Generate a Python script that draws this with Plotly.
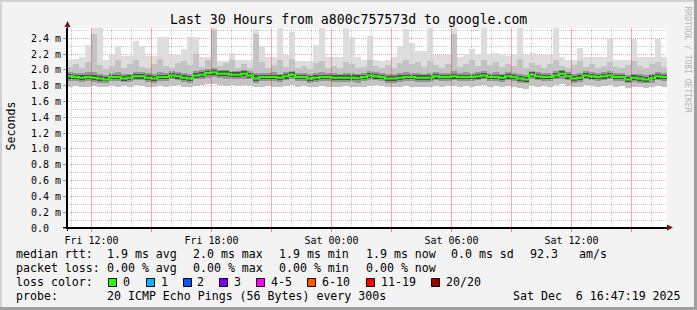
import plotly.graph_objects as go
import pandas as pd
import numpy as np

# ---------------- data (milliseconds) ----------------
med = [1.92,1.91,1.90,1.91,1.90,1.89,1.88,1.91,1.91,1.89,
       1.90,1.92,1.92,1.90,1.89,1.91,1.91,1.93,1.92,1.90,
       1.89,1.93,1.94,1.96,1.97,1.95,1.95,1.94,1.94,1.95,
       1.93,1.89,1.91,1.91,1.91,1.90,1.92,1.94,1.91,1.91,
       1.89,1.90,1.91,1.91,1.90,1.90,1.90,1.90,1.895,1.91,
       1.93,1.92,1.91,1.89,1.89,1.90,1.91,1.91,1.90,1.90,
       1.90,1.92,1.91,1.91,1.92,1.91,1.91,1.91,1.92,1.93,
       1.91,1.91,1.90,1.92,1.91,1.89,1.88,1.94,1.92,1.91,
       1.91,1.93,1.95,1.92,1.89,1.90,1.93,1.92,1.91,1.92,
       1.93,1.91,1.91,1.88,1.90,1.89,1.88,1.895,1.92,1.91]

lo = [1.79,1.80,1.79,1.78,1.80,1.79,1.78,1.80,1.79,1.80,
      1.79,1.81,1.80,1.79,1.78,1.80,1.79,1.80,1.81,1.79,
      1.78,1.80,1.81,1.82,1.82,1.81,1.80,1.81,1.80,1.81,
      1.80,1.78,1.79,1.80,1.79,1.78,1.80,1.81,1.79,1.80,
      1.78,1.79,1.80,1.79,1.78,1.79,1.80,1.79,1.78,1.79,
      1.80,1.81,1.80,1.78,1.79,1.78,1.80,1.79,1.78,1.79,
      1.78,1.80,1.79,1.80,1.80,1.79,1.80,1.79,1.80,1.81,
      1.79,1.80,1.78,1.80,1.79,1.77,1.76,1.80,1.79,1.80,
      1.79,1.81,1.82,1.80,1.78,1.79,1.81,1.80,1.79,1.80,
      1.81,1.79,1.80,1.77,1.79,1.78,1.77,1.78,1.80,1.79]

q1 = [1.86,1.86,1.85,1.86,1.85,1.84,1.84,1.86,1.86,1.85,
      1.85,1.87,1.87,1.85,1.84,1.86,1.86,1.88,1.87,1.85,
      1.84,1.88,1.89,1.90,1.91,1.90,1.89,1.89,1.89,1.89,
      1.88,1.84,1.86,1.86,1.86,1.85,1.87,1.88,1.86,1.86,
      1.84,1.85,1.86,1.86,1.85,1.85,1.85,1.85,1.84,1.86,
      1.87,1.87,1.86,1.84,1.84,1.85,1.86,1.86,1.85,1.85,
      1.85,1.87,1.86,1.86,1.87,1.86,1.86,1.86,1.87,1.88,
      1.86,1.86,1.85,1.87,1.86,1.84,1.83,1.88,1.87,1.86,
      1.86,1.88,1.89,1.87,1.84,1.85,1.88,1.87,1.86,1.87,
      1.88,1.86,1.86,1.83,1.85,1.84,1.83,1.84,1.87,1.86]

c_lo = [1.89,1.88,1.87,1.88,1.87,1.86,1.86,1.88,1.88,1.86,
        1.87,1.89,1.89,1.87,1.86,1.88,1.88,1.90,1.89,1.87,
        1.86,1.90,1.91,1.93,1.94,1.92,1.92,1.91,1.91,1.92,
        1.90,1.86,1.88,1.88,1.88,1.87,1.89,1.91,1.88,1.88,
        1.86,1.87,1.88,1.88,1.87,1.87,1.87,1.87,1.87,1.88,
        1.90,1.89,1.88,1.86,1.86,1.87,1.88,1.88,1.87,1.87,
        1.87,1.89,1.88,1.88,1.89,1.88,1.88,1.88,1.89,1.90,
        1.88,1.88,1.87,1.89,1.88,1.86,1.85,1.91,1.89,1.88,
        1.88,1.90,1.92,1.89,1.86,1.87,1.90,1.89,1.88,1.89,
        1.90,1.88,1.88,1.85,1.87,1.86,1.85,1.87,1.89,1.88]

c_hi = [1.95,1.94,1.93,1.94,1.94,1.92,1.91,1.94,1.94,1.92,
        1.93,1.95,1.95,1.93,1.92,1.94,1.94,1.96,1.95,1.93,
        1.92,1.96,1.97,1.99,2.00,1.98,1.98,1.97,1.97,1.98,
        1.96,1.93,1.94,1.94,1.94,1.93,1.95,1.97,1.94,1.94,
        1.92,1.93,1.94,1.94,1.93,1.93,1.93,1.93,1.93,1.94,
        1.96,1.95,1.94,1.92,1.92,1.93,1.94,1.94,1.93,1.93,
        1.93,1.95,1.94,1.94,1.95,1.94,1.94,1.94,1.95,1.96,
        1.94,1.94,1.93,1.95,1.94,1.92,1.91,1.97,1.95,1.94,
        1.94,1.96,1.98,1.95,1.92,1.93,1.96,1.95,1.94,1.95,
        1.96,1.94,1.94,1.91,1.93,1.92,1.91,1.93,1.95,1.94]

q3 = [1.97,1.96,1.96,1.97,1.97,1.95,1.94,1.96,1.97,1.95,
      1.95,1.97,1.97,1.96,1.95,1.97,1.96,1.98,1.97,1.96,
      1.95,1.99,2.00,2.01,2.03,2.00,2.00,1.99,1.99,2.00,
      1.98,1.96,1.96,1.96,1.97,1.95,1.97,1.99,1.96,1.96,
      1.95,1.96,1.97,1.96,1.96,1.95,1.96,1.96,1.95,1.96,
      1.98,1.97,1.96,1.95,1.95,1.96,1.97,1.96,1.96,1.95,
      1.96,1.97,1.96,1.96,1.98,1.96,1.97,1.96,1.97,1.98,
      1.96,1.97,1.95,1.97,1.96,1.95,1.94,1.99,1.97,1.96,
      1.96,1.98,2.00,1.97,1.95,1.96,1.98,1.97,1.96,1.97,
      1.98,1.96,1.96,1.94,1.95,1.95,1.94,1.95,1.97,1.96]

hi = [2.04,2.08,2.02,2.10,2.45,2.06,2.01,2.05,2.12,2.03,
      2.08,2.13,2.04,2.02,2.07,2.14,2.05,2.03,2.09,2.11,
      2.06,2.20,2.04,2.12,2.50,2.05,2.09,2.13,2.03,2.07,
      2.02,2.45,2.10,2.03,2.06,2.12,2.04,2.14,2.02,2.05,
      2.01,2.09,2.11,2.03,2.05,2.02,2.10,2.08,2.03,2.04,
      2.12,2.05,2.02,2.06,2.03,2.09,2.13,2.07,2.10,2.04,
      2.11,2.06,2.03,2.07,2.45,2.04,2.08,2.12,2.05,2.13,
      2.06,2.10,2.04,2.08,2.05,2.14,2.03,2.09,2.06,2.02,
      2.07,2.12,2.05,2.02,2.06,2.11,2.04,2.07,2.03,2.05,
      2.10,2.04,2.02,2.06,2.11,2.05,2.03,2.07,2.10,2.04]

peak = [2.12,2.14,2.16,2.32,2.53,2.53,2.13,2.20,2.30,2.18,
        2.18,2.37,2.30,2.17,2.17,2.41,2.41,2.19,2.19,2.26,
        2.41,2.41,2.16,2.16,2.53,2.11,2.11,2.22,2.13,2.13,
        2.13,2.52,2.30,2.16,2.16,2.53,2.19,2.48,2.11,2.11,
        2.11,2.32,2.53,2.16,2.16,2.16,2.53,2.41,2.16,2.13,
        2.43,2.13,2.11,2.13,2.16,2.30,2.52,2.34,2.24,2.24,
        2.53,2.19,2.19,2.19,2.53,2.16,2.20,2.26,2.20,2.53,
        2.20,2.22,2.20,2.18,2.20,2.53,2.19,2.22,2.19,2.19,
        2.19,2.53,2.16,2.13,2.13,2.28,2.16,2.16,2.16,2.16,
        2.39,2.13,2.13,2.13,2.39,2.16,2.16,2.16,2.39,2.16]

x_tick_vals = ["2025-12-05 12:00", "2025-12-05 15:00", "2025-12-05 18:00",
               "2025-12-05 21:00", "2025-12-06 00:00", "2025-12-06 03:00",
               "2025-12-06 06:00", "2025-12-06 09:00", "2025-12-06 12:00",
               "2025-12-06 15:00"]
x_tick_text = ["Fri 12:00", "", "Fri 18:00", "", "Sat 00:00", "",
               "Sat 06:00", "", "Sat 12:00", ""]
y_tick_vals = [0.0, 0.2, 0.4, 0.6, 0.8, 1.0, 1.2, 1.4, 1.6, 1.8, 2.0, 2.2, 2.4]
y_tick_text = ["0.0\u00a0\u00a0", "0.2 m", "0.4 m", "0.6 m", "0.8 m", "1.0 m",
               "1.2 m", "1.4 m", "1.6 m", "1.8 m", "2.0 m", "2.2 m", "2.4 m"]
y_minor_vals = [0.1, 0.3, 0.5, 0.7, 0.9, 1.1, 1.3, 1.5, 1.7, 1.9, 2.1, 2.3, 2.5]

loss_labels = ["0", "1", "2", "3", "4-5", "6-10", "11-19", "20/20"]
loss_colors = ["#26FF00", "#00B8FF", "#0059FF", "#7E00FF", "#FF00FF",
               "#FF5500", "#FF0000", "#A10000"]

title = "Last 30 Hours from a800c757573d to google.com"
rtt_row = ["median rtt:", "1.9 ms avg", "2.0 ms max", "1.9 ms min",
           "1.9 ms now", "0.0 ms sd", "92.3", "am/s"]
loss_row = ["packet loss:", "0.00 % avg", "0.00 % max", "0.00 % min", "0.00 % now"]
probe_text = "20 ICMP Echo Pings (56 Bytes) every 300s"
stamp_text = "Sat Dec  6 16:47:19 2025"

# ---------------- geometry ----------------
W, H = 697, 310
L, R, T, B = 67, 667, 28, 228
MONO = "DejaVu Sans Mono"
FS = 11.6
YMAX = 2.53


def px(x):
    return (x - L) / (R - L)


def py(y):
    return (B - y) / (B - T)


start = pd.Timestamp("2025-12-05 10:46:30")
end = pd.Timestamp("2025-12-06 16:46:30")
step = pd.Timedelta(minutes=18)
edges = pd.date_range(start, periods=len(med) + 1, freq=step)
centers = edges[:-1] + step / 2
bw = step.total_seconds() * 1000 * 1.03

hours = pd.date_range("2025-12-05 11:00", "2025-12-06 16:00", freq="1h")
x_minor_vals = [h.strftime("%Y-%m-%d %H:%M") for h in hours if h.hour % 3 != 0]

arr = {k: np.array(v) for k, v in dict(lo=lo, q1=q1, c_lo=c_lo, c_hi=c_hi,
                                        q3=q3, hi=hi, peak=peak).items()}

RED = "#F4A3A3"
GRAY = "#C8C8C8"

fig = go.Figure()


def vlines(vals):
    xs, ys = [], []
    for v in vals:
        xs += [v, v, None]
        ys += [0, YMAX, None]
    return xs, ys


# vertical grid drawn as traces (below the smoke)
gx, gy = vlines(x_minor_vals)
fig.add_trace(go.Scatter(x=gx, y=gy, mode="lines", connectgaps=False,
                         line=dict(color=GRAY, width=1, dash="1px,1px"),
                         hoverinfo="skip", showlegend=False))
rx, ry = vlines(x_tick_vals)
fig.add_trace(go.Scatter(x=rx, y=ry, mode="lines", connectgaps=False,
                         line=dict(color="rgba(255,0,0,0.33)", width=1),
                         hoverinfo="skip", showlegend=False))

for top, bot, col in [("peak", "lo", "#DDDDDD"), ("hi", "lo", "#C3C3C3"),
                      ("q3", "q1", "#959595"), ("c_hi", "c_lo", "#4E4E4E")]:
    fig.add_trace(go.Bar(x=centers, y=arr[top] - arr[bot], base=arr[bot], width=bw,
                         marker=dict(color=col, line=dict(width=0)),
                         hoverinfo="skip", showlegend=False))

fig.add_trace(go.Scatter(x=edges, y=med + [med[-1]], mode="lines",
                         line=dict(color=loss_colors[0], width=2, shape="hv"),
                         hoverinfo="skip", showlegend=False))

fig.update_layout(
    width=W, height=H,
    margin=dict(l=L, r=W - R, t=T, b=H - B, pad=0),
    paper_bgcolor="#F3F3F3", plot_bgcolor="#FFFFFF",
    barmode="overlay", bargap=0,
    showlegend=False,
    xaxis=dict(type="date", range=[start, end], tickmode="array",
               tickvals=x_tick_vals, ticktext=x_tick_text,
               showgrid=False,
               ticks="outside", ticklen=3, tickcolor="#F08080",
               tickfont=dict(family=MONO, size=10, color="#000"),
               showline=True, linecolor="#000", linewidth=1, zeroline=False,
               fixedrange=True),
    yaxis=dict(range=[0, YMAX], tickmode="array", tickvals=y_tick_vals,
               ticktext=y_tick_text,
               showgrid=True, gridcolor=RED, griddash="1px,1px", gridwidth=1,
               minor=dict(tickmode="array", tickvals=y_minor_vals, showgrid=True,
                          gridcolor=GRAY, griddash="1px,1px", ticks=""),
               ticks="outside", ticklen=3, tickcolor="#999",
               tickfont=dict(family=MONO, size=10, color="#000"),
               showline=True, linecolor="#000", linewidth=1, zeroline=False,
               fixedrange=True),
)

shapes = []
# frame
shapes.append(dict(type="rect", xref="paper", yref="paper", x0=px(0), x1=px(W), y0=py(0), y1=py(2),
                   fillcolor="#D2D2D2", line=dict(width=0), layer="above"))
shapes.append(dict(type="rect", xref="paper", yref="paper", x0=px(0), x1=px(2), y0=py(0), y1=py(H),
                   fillcolor="#D2D2D2", line=dict(width=0), layer="above"))
shapes.append(dict(type="rect", xref="paper", yref="paper", x0=px(0), x1=px(W), y0=py(H - 3), y1=py(H),
                   fillcolor="#A0A0A0", line=dict(width=0), layer="above"))
shapes.append(dict(type="rect", xref="paper", yref="paper", x0=px(W - 3), x1=px(W), y0=py(0), y1=py(H),
                   fillcolor="#A0A0A0", line=dict(width=0), layer="above"))
# axis extensions
shapes.append(dict(type="line", xref="paper", yref="paper", x0=px(67.5), x1=px(67.5), y0=py(231), y1=py(24),
                   line=dict(color="#000", width=1), layer="above"))
shapes.append(dict(type="line", xref="paper", yref="paper", x0=px(63), x1=px(669), y0=py(227.5), y1=py(227.5),
                   line=dict(color="#000", width=1), layer="above"))


def tri(pts):
    return "M " + " L ".join(f"{px(a)},{py(b)}" for a, b in pts) + " Z"


shapes.append(dict(type="path", xref="paper", yref="paper",
                   path=tri([(64.5, 27), (70.5, 27), (67.5, 21)]),
                   fillcolor="#7F1010", line=dict(width=0), layer="above"))
shapes.append(dict(type="path", xref="paper", yref="paper",
                   path=tri([(667, 224.5), (667, 230.5), (673, 227.5)]),
                   fillcolor="#7F1010", line=dict(width=0), layer="above"))

# loss colour boxes
box_x = [108, 146, 183, 219, 256, 307, 366, 431]
lab_x = [123.3, 160.7, 197.3, 234, 270.7, 322, 380.7, 445.7]
anns = []
for bx, lx, lab, col in zip(box_x, lab_x, loss_labels, loss_colors):
    shapes.append(dict(type="rect", xref="paper", yref="paper", x0=px(bx + 0.5), x1=px(bx + 8.5),
                       y0=py(278.5), y1=py(286.5), fillcolor=col,
                       line=dict(color="#000", width=1), layer="above"))
    anns.append((lx, 282.3, lab))

fig.update_layout(shapes=shapes)


def nb(s):
    return s.replace(" ", "\u00a0")


rtt_x = [16, 107.3, 193.3, 279.3, 366, 451, 530, 579.3]
loss_x = [16, 107.3, 193.3, 279.3, 366]
for xx, s in zip(rtt_x, rtt_row):
    anns.append((xx, 254.3, s))
for xx, s in zip(loss_x, loss_row):
    anns.append((xx, 268.3, s))
anns.append((16, 282.3, "loss color:"))
anns.append((16, 296, "probe:"))
anns.append((107.3, 296, probe_text))
anns.append((513.3, 296, stamp_text))

annotations = []
for xx, yy, s in anns:
    annotations.append(dict(xref="paper", yref="paper", x=px(xx - 1), y=py(yy),
                            xanchor="left", yanchor="middle", text=nb(s),
                            showarrow=False, borderpad=0,
                            font=dict(family=MONO, size=FS, color="#000")))

annotations.append(dict(xref="paper", yref="paper", x=px(348), y=py(19.3),
                        xanchor="center", yanchor="middle", text=nb(title), showarrow=False,
                        font=dict(family=MONO, size=13.2, color="#000")))
annotations.append(dict(xref="paper", yref="paper", x=px(10.5), y=py(126),
                        xanchor="center", yanchor="middle", text="Seconds", textangle=-90,
                        showarrow=False, font=dict(family=MONO, size=FS, color="#000")))
annotations.append(dict(xref="paper", yref="paper", x=px(687.5), y=py(59),
                        xanchor="center", yanchor="middle", text=nb("RRDTOOL / TOBI OETIKER"),
                        textangle=90, showarrow=False,
                        font=dict(family=MONO, size=8, color="#B4B4B4")))

fig.update_layout(annotations=annotations)

fig.write_html("out.html", config={"displayModeBar": False})
